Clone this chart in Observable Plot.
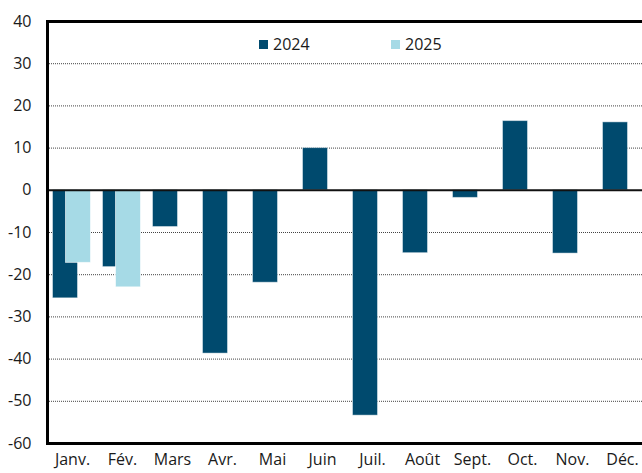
<!DOCTYPE html>
<html><head><meta charset="utf-8">
<script src="https://cdn.jsdelivr.net/npm/d3@7"></script>
<script src="https://cdn.jsdelivr.net/npm/@observablehq/plot@0.6"></script>
<style>
body{margin:0;background:#fff;font-family:"Open Sans",sans-serif}
#wrap{position:relative;width:642px;height:473px;overflow:hidden}
.leg{position:absolute;top:33px;display:flex;align-items:center;font-size:16px;color:#1a1a1a;font-family:"Open Sans",sans-serif}
.leg span.sw{display:inline-block;width:9px;height:9px;margin-right:5px}
</style></head>
<body><div id="wrap"></div>
<script>
const months = ["Janv.","Fév.","Mars","Avr.","Mai","Juin","Juil.","Août","Sept.","Oct.","Nov.","Déc."];
const values2024 = [-25.6,-18.2,-8.7,-38.7,-21.9,10.0,-53.4,-14.9,-1.8,16.4,-15.0,16.1];
const months2025 = ["Janv.","Fév."];
const values2025 = [-17.2,-23.0];
const yTicks = [40,30,20,10,0,-10,-20,-30,-40,-50,-60];
const gridTicks = [30,20,10,-10,-20,-30,-40,-50];
const seriesNames = ["2024","2025"];
const colors = ["#004a6e","#a6dae6"];

const d2024 = months.map((m,i)=>({month:m, value:values2024[i]}));
const d2025 = months2025.map((m,i)=>({month:m, value:values2025[i]}));

const chart = Plot.plot({
  width: 642, height: 473,
  marginLeft: 47, marginRight: -5, marginTop: 21, marginBottom: 30,
  style: {fontFamily: "'Open Sans', sans-serif", fontSize: "16px", color: "#1a1a1a", background: "#fff", overflow: "hidden"},
  x: {domain: months, paddingInner: 0.5, paddingOuter: 0.25, round: false, label: null},
  y: {domain: [-60, 40], label: null},
  marks: [
    Plot.ruleY(gridTicks, {stroke: "#444", strokeWidth: 1, strokeDasharray: "1,1"}),
    Plot.barY(d2024, {x: "month", y: "value", fill: colors[0], dx: -7, stroke: "#ffffff", strokeOpacity: 0.45, strokeWidth: 1}),
    Plot.barY(d2025, {x: "month", y: "value", fill: colors[1], dx: 6, stroke: "#ffffff", strokeOpacity: 0.6, strokeWidth: 1}),
    Plot.ruleY([0], {stroke: "#111", strokeWidth: 2}),
    Plot.ruleY([40, -60], {stroke: "#000", strokeWidth: 3}),
    Plot.frame({anchor: "left", stroke: "#000", strokeWidth: 3}),
    Plot.axisY({ticks: yTicks, tickSize: 0, tickPadding: 16, tickFormat: d => String(d), fontSize: 16}),
    Plot.axisX({tickSize: 0, tickPadding: 10, fontSize: 16})
  ]
});
const wrap = document.getElementById("wrap");
wrap.appendChild(chart);
const lefts = [259, 391];
seriesNames.forEach((n,i)=>{
  const d = document.createElement("div");
  d.className = "leg";
  d.style.left = lefts[i] + "px";
  d.innerHTML = `<span class="sw" style="background:${colors[i]}"></span><span>${n}</span>`;
  wrap.appendChild(d);
});
</script>
</body></html>
